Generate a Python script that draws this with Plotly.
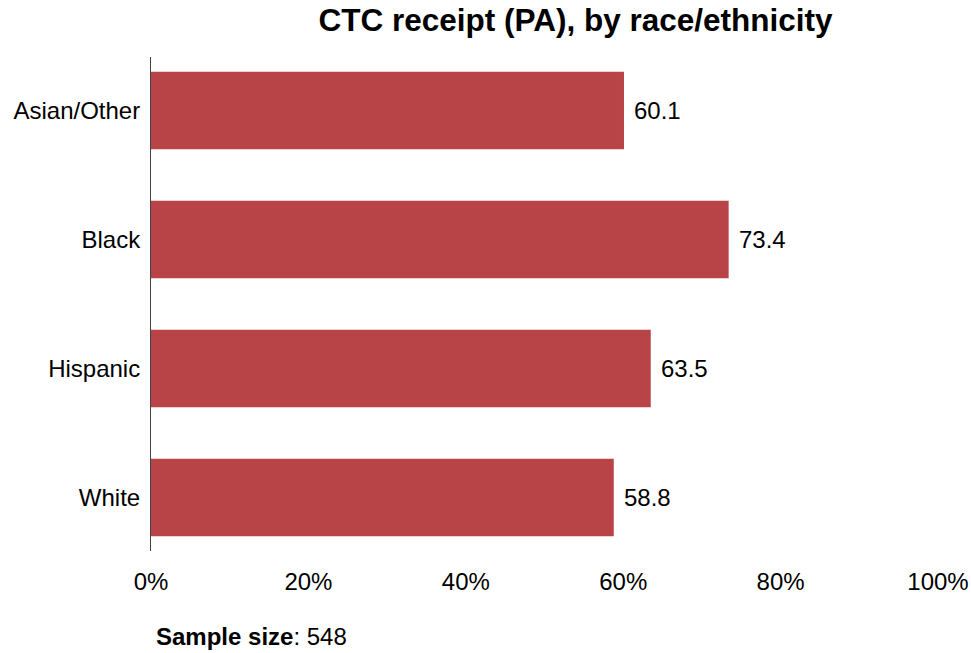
import plotly.graph_objects as go

categories = ["Asian/Other", "Black", "Hispanic", "White"]
values = [60.1, 73.4, 63.5, 58.8]
x_ticks = [0, 20, 40, 60, 80, 100]
x_tick_labels = ["0%", "20%", "40%", "60%", "80%", "100%"]
sample_size = 548
title_text = "CTC receipt (PA), by race/ethnicity"

bar_color = "#B84447"
font_family = "Liberation Sans, Arial, sans-serif"

fig = go.Figure()
fig.add_trace(go.Bar(
    x=values,
    y=categories,
    orientation="h",
    width=0.6,
    marker=dict(color=bar_color, line=dict(width=0)),
    hoverinfo="skip",
))

for v, c in zip(values, categories):
    fig.add_annotation(
        x=v, y=c, xref="x", yref="y",
        text=f"{v:.1f}", showarrow=False,
        xanchor="left", yanchor="middle", xshift=8,
        font=dict(size=24, color="#000000", family=font_family),
    )

fig.add_annotation(
    x=3 / 787, y=-0.174, xref="paper", yref="paper",
    text=f"<b>Sample size</b>: {sample_size}", showarrow=False,
    xanchor="left", yanchor="middle",
    font=dict(size=24, color="#000000", family=font_family),
)

fig.update_layout(
    width=971, height=653,
    margin=dict(l=151, r=33, t=57, b=102, autoexpand=False),
    paper_bgcolor="white", plot_bgcolor="white",
    showlegend=False,
    title=dict(
        text=f"<b>{title_text}</b>",
        x=575.5 / 971, xref="container", xanchor="center",
        y=1 - 20 / 653, yref="container", yanchor="middle",
        font=dict(size=31.5, color="#000000", family=font_family),
    ),
    font=dict(family=font_family, size=24, color="#000000"),
    xaxis=dict(
        range=[0, 100], tickmode="array", tickvals=x_ticks, ticktext=x_tick_labels,
        showgrid=False, zeroline=False, showline=False,
        ticks="", ticklabelstandoff=14, automargin=False,
        tickfont=dict(size=24, color="#000000"),
        fixedrange=True,
    ),
    yaxis=dict(
        type="category", categoryorder="array", categoryarray=categories,
        range=[3.415, -0.415],
        showgrid=False, zeroline=False,
        showline=True, linecolor="#444444", linewidth=1,
        ticks="", ticklabelstandoff=5, automargin=False,
        tickfont=dict(size=24, color="#000000"),
        fixedrange=True,
    ),
)

fig.write_html(
    "out.html",
    config={"displayModeBar": False},
    post_script="document.body.style.margin='0';",
)
